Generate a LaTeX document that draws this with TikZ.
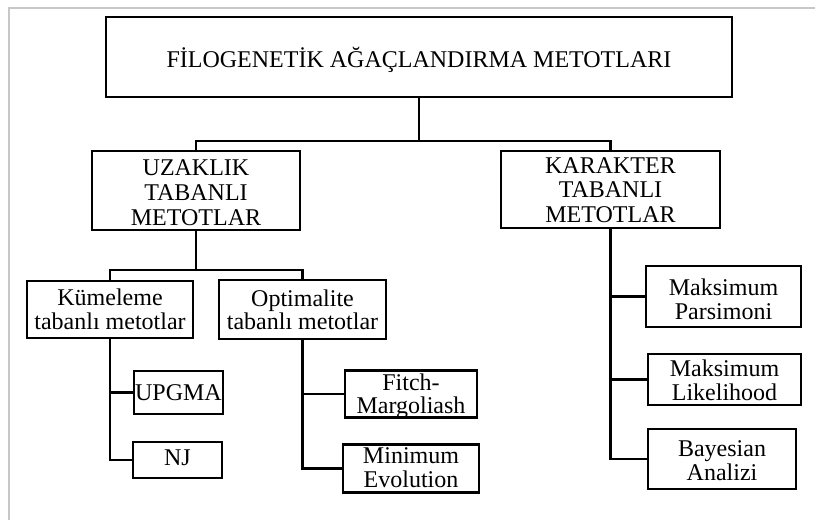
\documentclass[tikz,border=0pt]{standalone}
\usepackage{fontspec}
\setmainfont{Liberation Serif}
\newcommand\boxtext[2]{\raisebox{-#1}[\height][\depth]{\begin{tabular}{@{}c@{}}#2\end{tabular}}}
\begin{document}
\begin{tikzpicture}[x=1pt,y=-1pt,
  box/.style={draw, line width=2.9pt, inner sep=0pt,
    font=\fontsize{24}{23.5}\selectfont},
  wide/.style={font=\fontsize{24}{25}\selectfont},
  conn/.style={line width=2.9pt}]
\useasboundingbox (0,0) rectangle (815,520);
\draw[black!22, line width=2pt] (9,520) -- (9,8) -- (815,8);

\node[box, minimum width=626pt, minimum height=80pt] (top) at (419,57) {\boxtext{3.4pt}{FİLOGENETİK AĞAÇLANDIRMA METOTLARI}};
\node[box, wide, minimum width=208pt, minimum height=79pt] (uz) at (196,190.5) {\boxtext{5pt}{UZAKLIK\\TABANLI\\METOTLAR}};
\node[box, font=\fontsize{24}{24.5}\selectfont, minimum width=219pt, minimum height=77pt] (kar) at (610.5,189.5) {\boxtext{3.3pt}{KARAKTER\\TABANLI\\METOTLAR}};
\node[box, minimum width=166pt, minimum height=57pt] (kum) at (110,309.5) {\boxtext{3pt}{Kümeleme\\tabanlı metotlar}};
\node[box, minimum width=167pt, minimum height=59pt] (opt) at (302.5,309.5) {\boxtext{3.7pt}{Optimalite\\tabanlı metotlar}};
\node[box, minimum width=89pt, minimum height=43pt] (upgma) at (178.5,392.5) {\boxtext{3.2pt}{UPGMA}};
\node[box, minimum width=89pt, minimum height=36pt] (nj) at (177.5,460) {\boxtext{0.7pt}{NJ}};
\node[box, font=\fontsize{24}{23}\selectfont, minimum width=132pt, minimum height=47pt] (fitch) at (411,394) {\boxtext{3.3pt}{Fitch-\\Margoliash}};
\node[box, minimum width=136pt, minimum height=47pt] (minev) at (411,468.5) {\boxtext{2.5pt}{Minimum\\Evolution}};
\node[box, minimum width=155pt, minimum height=61pt] (mp) at (723.5,296.5) {\boxtext{6pt}{Maksimum\\Parsimoni}};
\node[box, minimum width=153pt, minimum height=51pt] (ml) at (724.5,379.5) {\boxtext{4pt}{Maksimum\\Likelihood}};
\node[box, minimum width=148pt, minimum height=60pt] (ba) at (722,459) {\boxtext{4.6pt}{Bayesian\\Analizi}};

\coordinate (j1) at (419,141);
\draw[conn] (top.south) -- (j1);
\draw[conn] (uz.north) |- (j1);
\draw[conn] (kar.north) |- (j1);

\coordinate (j2) at (196,270);
\draw[conn] (uz.south) -- (j2);
\draw[conn] (kum.north) |- (j2);
\draw[conn] (opt.north) |- (j2);

\draw[conn] (kum.south) |- (nj.west);
\draw[conn] (upgma.west) -- (upgma.west -| kum.south);

\draw[conn] (opt.south) |- (minev.west);
\draw[conn] (fitch.west) -- (fitch.west -| opt.south);

\draw[conn] (kar.south) |- (ba.west);
\draw[conn] (mp.west) -- (mp.west -| kar.south);
\draw[conn] (ml.west) -- (ml.west -| kar.south);
\end{tikzpicture}
\end{document}
